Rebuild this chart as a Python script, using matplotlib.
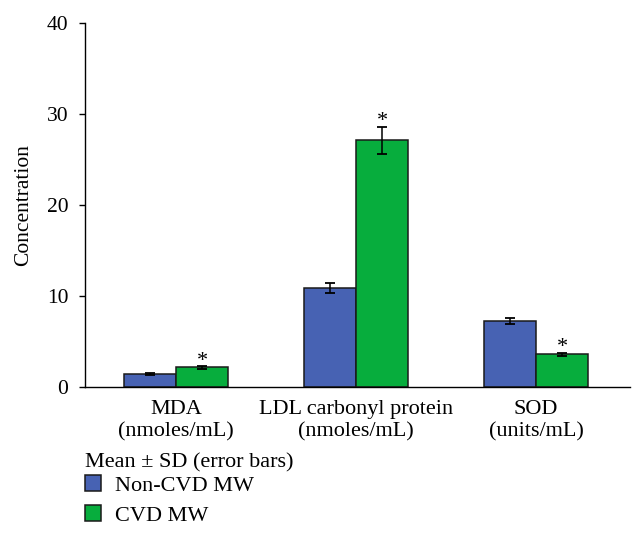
import matplotlib
matplotlib.use("Agg")
import matplotlib.pyplot as plt
import numpy as np

plt.rcParams['font.family'] = ['Liberation Serif', 'DejaVu Serif']

# data
groups = ['MDA\n(nmoles/mL)', 'LDL carbonyl protein\n(nmoles/mL)', 'SOD\n(units/mL)']
non_cvd = [1.45, 10.85, 7.25]
non_cvd_sd = [0.08, 0.55, 0.38]
cvd = [2.15, 27.1, 3.6]
cvd_sd = [0.12, 1.45, 0.15]
significant = [True, True, True]

blue = '#4762b3'
green = '#07ad3d'

fig = plt.figure(figsize=(6.44, 5.35), dpi=100)
ax = fig.add_axes([0.132, 0.2766, 0.846, 0.6804])

x = np.arange(len(groups))
w = 0.29
err_kw = dict(ecolor='black', elinewidth=1.1, capsize=3.5, capthick=1.3)
b1 = ax.bar(x - w / 2, non_cvd, w, yerr=non_cvd_sd, color=blue, edgecolor='#1a1a1a',
            linewidth=1.1, error_kw=err_kw, label='Non-CVD MW')
b2 = ax.bar(x + w / 2, cvd, w, yerr=cvd_sd, color=green, edgecolor='#1a1a1a',
            linewidth=1.1, error_kw=err_kw, label='CVD MW')

# significance stars above the CVD bars
for xi, v, e, s in zip(x, cvd, cvd_sd, significant):
    if s:
        ax.annotate('*', (xi + w / 2, v + e), xytext=(0, -3), textcoords='offset points',
                    ha='center', va='bottom', fontsize=16)

ax.set_xlim(-0.505, 2.52)
ax.set_ylim(0, 40)
ax.set_yticks([0, 10, 20, 30, 40])
ax.set_xticks(x)
ax.set_xticklabels(groups, fontsize=16, linespacing=1.25)
ax.tick_params(axis='x', length=0, pad=9)
ax.tick_params(axis='y', labelsize=15.5, length=4, width=1.0, pad=8)
ax.set_ylabel('Concentration', fontsize=15.5, labelpad=10)
for side in ['top', 'right']:
    ax.spines[side].set_visible(False)
for side in ['left', 'bottom']:
    ax.spines[side].set_linewidth(1.0)

# legend heading, then the two entries under it
fig.text(0.132, 0.1345, 'Mean ± SD (error bars)', fontsize=16, ha='left', va='center')
leg = fig.legend(handles=[b1, b2], loc='upper left', bbox_to_anchor=(0.114, 0.133),
                 fontsize=16, frameon=False, handlelength=0.75, handleheight=0.75,
                 handletextpad=0.6, labelspacing=0.4, borderpad=0.0)

fig.savefig('out.png', dpi=100)
